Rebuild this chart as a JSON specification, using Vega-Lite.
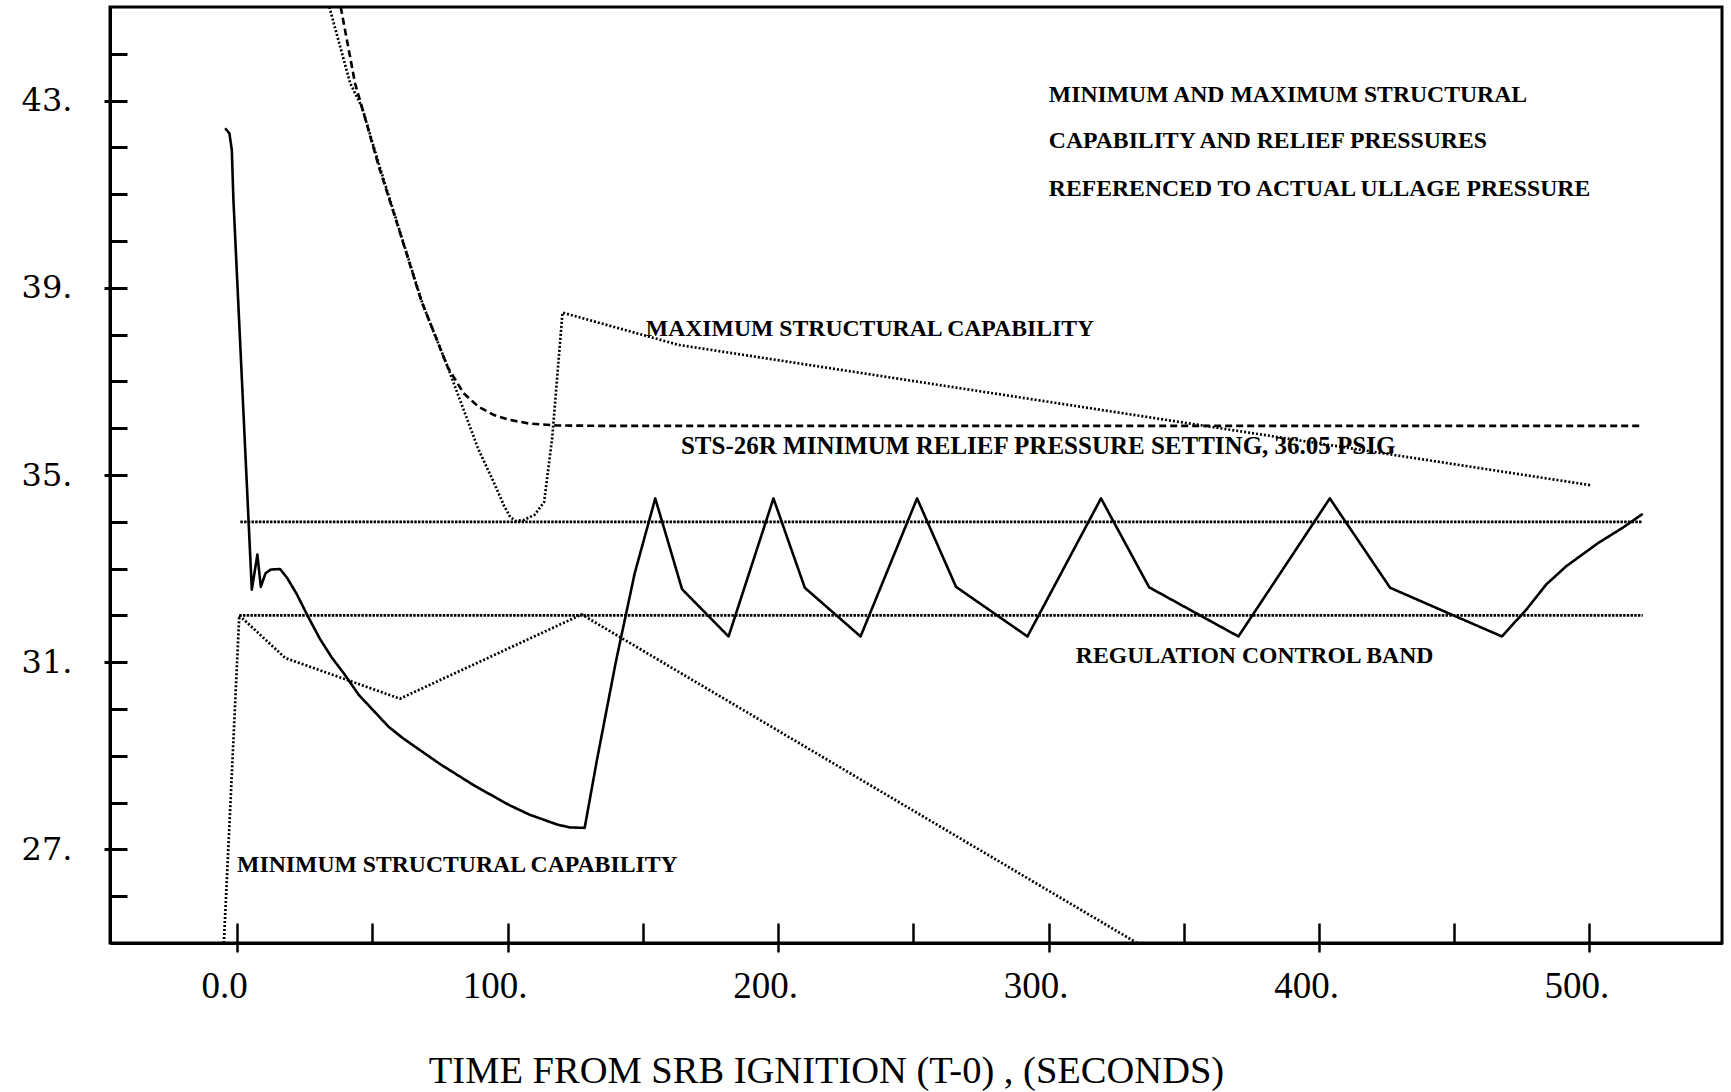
{
  "$schema": "https://vega.github.io/schema/vega-lite/v6.json",
  "width": 1612,
  "height": 936,
  "autosize": {"type": "none"},
  "padding": {"left": 110, "top": 7, "right": 9, "bottom": 149},
  "background": "white",
  "config": {"view": {"stroke": "black", "strokeWidth": 3}, "axis": {"grid": false}},
  "datasets": {
    "curves": [
      {"series": "ullage", "t": -4.43, "p": 42.41},
      {"series": "ullage", "t": -2.84, "p": 42.30},
      {"series": "ullage", "t": -1.96, "p": 41.94},
      {"series": "ullage", "t": -1.37, "p": 40.88},
      {"series": "ullage", "t": 5.43, "p": 32.55},
      {"series": "ullage", "t": 7.5, "p": 33.30},
      {"series": "ullage", "t": 8.75, "p": 32.61},
      {"series": "ullage", "t": 10.5, "p": 32.90},
      {"series": "ullage", "t": 12.45, "p": 32.98},
      {"series": "ullage", "t": 15.9, "p": 32.99},
      {"series": "ullage", "t": 18.5, "p": 32.80},
      {"series": "ullage", "t": 22.1, "p": 32.45},
      {"series": "ullage", "t": 26.0, "p": 32.00},
      {"series": "ullage", "t": 30.6, "p": 31.50},
      {"series": "ullage", "t": 35.0, "p": 31.10},
      {"series": "ullage", "t": 39.6, "p": 30.75},
      {"series": "ullage", "t": 45.0, "p": 30.30},
      {"series": "ullage", "t": 51.0, "p": 29.93},
      {"series": "ullage", "t": 56.0, "p": 29.62},
      {"series": "ullage", "t": 61.2, "p": 29.38},
      {"series": "ullage", "t": 75.1, "p": 28.82},
      {"series": "ullage", "t": 87.8, "p": 28.36},
      {"series": "ullage", "t": 100.5, "p": 27.95},
      {"series": "ullage", "t": 108.2, "p": 27.74},
      {"series": "ullage", "t": 118.4, "p": 27.53},
      {"series": "ullage", "t": 123.0, "p": 27.47},
      {"series": "ullage", "t": 128.5, "p": 27.46},
      {"series": "ullage", "t": 133.0, "p": 28.90},
      {"series": "ullage", "t": 140.0, "p": 31.00},
      {"series": "ullage", "t": 147.0, "p": 32.90},
      {"series": "ullage", "t": 154.6, "p": 34.50},
      {"series": "ullage", "t": 164.5, "p": 32.56},
      {"series": "ullage", "t": 181.7, "p": 31.55},
      {"series": "ullage", "t": 198.3, "p": 34.50},
      {"series": "ullage", "t": 209.9, "p": 32.59},
      {"series": "ullage", "t": 230.5, "p": 31.55},
      {"series": "ullage", "t": 251.4, "p": 34.50},
      {"series": "ullage", "t": 265.8, "p": 32.61},
      {"series": "ullage", "t": 292.2, "p": 31.55},
      {"series": "ullage", "t": 319.4, "p": 34.50},
      {"series": "ullage", "t": 337.2, "p": 32.60},
      {"series": "ullage", "t": 370.2, "p": 31.55},
      {"series": "ullage", "t": 404.0, "p": 34.50},
      {"series": "ullage", "t": 426.3, "p": 32.59},
      {"series": "ullage", "t": 467.6, "p": 31.55},
      {"series": "ullage", "t": 476.6, "p": 32.12},
      {"series": "ullage", "t": 484.0, "p": 32.66},
      {"series": "ullage", "t": 491.4, "p": 33.05},
      {"series": "ullage", "t": 503.3, "p": 33.55},
      {"series": "ullage", "t": 512.2, "p": 33.87},
      {"series": "ullage", "t": 519.7, "p": 34.17},
      {"series": "relief", "t": 38.3, "p": 45.0},
      {"series": "relief", "t": 43.6, "p": 43.37},
      {"series": "relief", "t": 46.2, "p": 42.85},
      {"series": "relief", "t": 52.4, "p": 41.59},
      {"series": "relief", "t": 59.5, "p": 40.31},
      {"series": "relief", "t": 68.0, "p": 38.74},
      {"series": "relief", "t": 77.9, "p": 37.30},
      {"series": "relief", "t": 83.7, "p": 36.75},
      {"series": "relief", "t": 89.2, "p": 36.46},
      {"series": "relief", "t": 95.0, "p": 36.28},
      {"series": "relief", "t": 100.5, "p": 36.18},
      {"series": "relief", "t": 108.0, "p": 36.10},
      {"series": "relief", "t": 118.0, "p": 36.06},
      {"series": "relief", "t": 134.0, "p": 36.05},
      {"series": "relief", "t": 519.7, "p": 36.05},
      {"series": "maxcap", "t": 34.1, "p": 45.0},
      {"series": "maxcap", "t": 41.8, "p": 43.37},
      {"series": "maxcap", "t": 46.1, "p": 42.87},
      {"series": "maxcap", "t": 52.9, "p": 41.55},
      {"series": "maxcap", "t": 60.2, "p": 40.2},
      {"series": "maxcap", "t": 68.6, "p": 38.65},
      {"series": "maxcap", "t": 77.9, "p": 37.30},
      {"series": "maxcap", "t": 89.2, "p": 35.55},
      {"series": "maxcap", "t": 95.0, "p": 34.83},
      {"series": "maxcap", "t": 98.8, "p": 34.33},
      {"series": "maxcap", "t": 101.0, "p": 34.10},
      {"series": "maxcap", "t": 103.0, "p": 34.02},
      {"series": "maxcap", "t": 106.0, "p": 34.04},
      {"series": "maxcap", "t": 110.0, "p": 34.15},
      {"series": "maxcap", "t": 113.5, "p": 34.42},
      {"series": "maxcap", "t": 116.5, "p": 35.8},
      {"series": "maxcap", "t": 120.3, "p": 38.47},
      {"series": "maxcap", "t": 163.2, "p": 37.78},
      {"series": "maxcap", "t": 500.7, "p": 34.78},
      {"series": "mincap", "t": -4.9, "p": 25.0},
      {"series": "mincap", "t": 0.8, "p": 32.0},
      {"series": "mincap", "t": 17.8, "p": 31.09},
      {"series": "mincap", "t": 60.2, "p": 30.22},
      {"series": "mincap", "t": 127.4, "p": 32.02},
      {"series": "mincap", "t": 332.7, "p": 25.0},
      {"series": "bandhi", "t": 1.2, "p": 34.0},
      {"series": "bandhi", "t": 519.7, "p": 34.0},
      {"series": "bandlo", "t": 0.8, "p": 32.0},
      {"series": "bandlo", "t": 519.7, "p": 32.0}
    ],
    "labels": [
      {"t": 300.1, "p": 43.12, "text": "MINIMUM AND MAXIMUM STRUCTURAL"},
      {"t": 300.1, "p": 42.13, "text": "CAPABILITY AND RELIEF PRESSURES"},
      {"t": 300.1, "p": 41.12, "text": "REFERENCED TO ACTUAL ULLAGE PRESSURE"},
      {"t": 151.1, "p": 38.12, "text": "MAXIMUM STRUCTURAL CAPABILITY"},
      {"t": 310.1, "p": 31.14, "text": "REGULATION CONTROL BAND"},
      {"t": 0.0, "p": 26.67, "text": "MINIMUM STRUCTURAL CAPABILITY"}
    ],
    "relieflabel": [
      {"t": 164.1, "p": 35.62, "text": "STS-26R MINIMUM RELIEF PRESSURE SETTING, 36.05 PSIG"}
    ]
  },
  "layer": [
    {
      "data": {"name": "curves"},
      "mark": {"type": "line", "color": "black", "clip": true, "strokeCap": "butt", "strokeJoin": "round"},
      "encoding": {
        "x": {
          "field": "t", "type": "quantitative",
          "scale": {"domain": [-47, 549], "nice": false, "zero": false},
          "axis": {
            "values": [0, 100, 200, 300, 400, 500],
            "labelExpr": "datum.value == 0 ? '0.0' : datum.value + '.'",
            "tickSize": 9, "tickWidth": 2.5, "tickColor": "black",
            "domainColor": "black", "domainWidth": 3,
            "labelFont": "Liberation Serif", "labelFontSize": 37, "labelColor": "black",
            "labelBaseline": "alphabetic", "labelPadding": 45, "labelOffset": -13,
            "labelFlush": false, "labelOverlap": false,
            "title": "TIME FROM SRB IGNITION (T-0) , (SECONDS)",
            "titleFont": "Liberation Serif", "titleFontSize": 38.5, "titleFontWeight": "normal", "titleColor": "black",
            "titleX": 716, "titleY": 139, "titleAlign": "center", "titleBaseline": "alphabetic",
            "grid": false
          }
        },
        "y": {
          "field": "p", "type": "quantitative",
          "scale": {"domain": [25, 45], "nice": false, "zero": false},
          "axis": {
            "values": [27, 31, 35, 39, 43],
            "labelExpr": "datum.value + '.'",
            "tickSize": 6, "tickWidth": 3, "tickColor": "black",
            "domainColor": "black", "domainWidth": 3,
            "labelFont": "DejaVu Serif", "labelFontSize": 32, "labelColor": "black",
            "labelPadding": 32, "labelOverlap": false, "labelFlush": false,
            "title": null, "grid": false
          }
        },
        "detail": {"field": "series", "type": "nominal"},
        "strokeDash": {
          "field": "series", "type": "nominal",
          "scale": {"domain": ["ullage", "relief", "maxcap", "mincap", "bandhi", "bandlo"],
                    "range": [[1, 0], [7, 4], [2, 2], [2, 2], [2.5, 1.2], [2.5, 1.2]]},
          "legend": null
        },
        "strokeWidth": {
          "field": "series", "type": "nominal",
          "scale": {"domain": ["ullage", "relief", "maxcap", "mincap", "bandhi", "bandlo"],
                    "range": [2.6, 2.8, 1.8, 1.8, 2.6, 2.6]},
          "legend": null
        }
      }
    },
    {
      "data": {"name": "labels"},
      "mark": {"type": "text", "align": "left", "baseline": "middle", "font": "Liberation Serif", "fontSize": 23.7, "fontWeight": "bold", "color": "black"},
      "encoding": {
        "x": {
          "field": "t", "type": "quantitative",
          "scale": {"domain": [-47, 549], "nice": false, "zero": false},
          "axis": {"orient": "bottom", "values": [0, 50, 100, 150, 200, 250, 300, 350, 400, 450, 500],
                   "tickSize": -20, "tickWidth": 2.5, "tickColor": "black", "labels": false, "domain": false, "title": null, "grid": false}
        },
        "y": {
          "field": "p", "type": "quantitative",
          "scale": {"domain": [25, 45], "nice": false, "zero": false},
          "axis": {"orient": "left", "values": [26, 27, 28, 29, 30, 31, 32, 33, 34, 35, 36, 37, 38, 39, 40, 41, 42, 43, 44],
                   "tickSize": -17, "tickWidth": 3, "tickColor": "black", "labels": false, "domain": false, "title": null, "grid": false}
        },
        "text": {"field": "text", "type": "nominal"}
      }
    },
    {
      "data": {"name": "relieflabel"},
      "mark": {"type": "text", "align": "left", "baseline": "middle", "font": "Liberation Serif", "fontSize": 25, "fontWeight": "bold", "color": "black"},
      "encoding": {
        "x": {"field": "t", "type": "quantitative", "scale": {"domain": [-47, 549], "nice": false, "zero": false}, "axis": null},
        "y": {"field": "p", "type": "quantitative", "scale": {"domain": [25, 45], "nice": false, "zero": false}, "axis": null},
        "text": {"field": "text", "type": "nominal"}
      }
    }
  ],
  "resolve": {"axis": {"x": "independent", "y": "independent"}}
}
